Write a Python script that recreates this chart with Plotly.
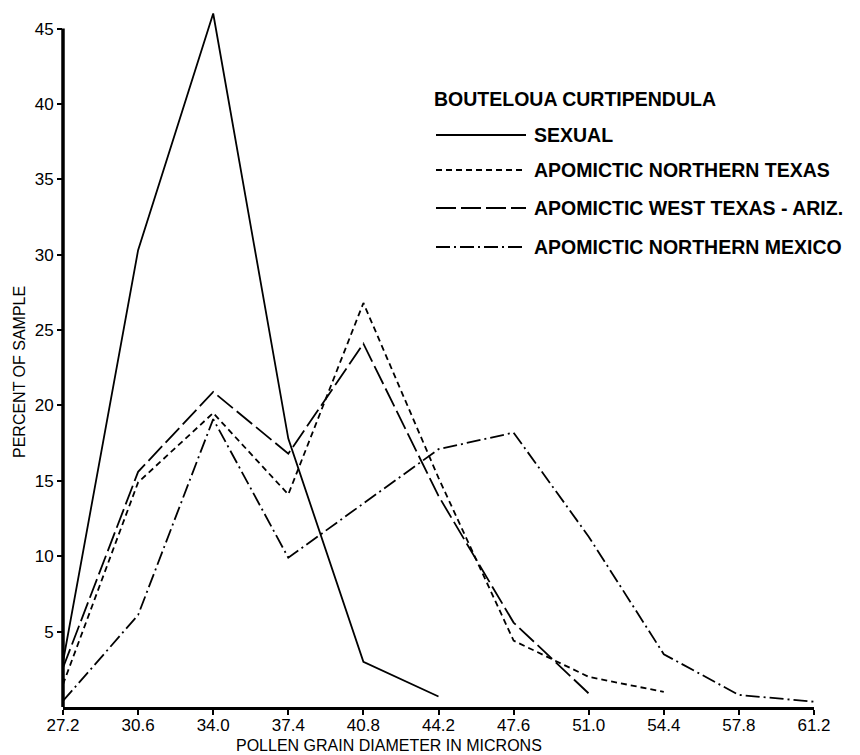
import plotly.graph_objects as go

# ---- data ----
diameters = [27.2, 30.6, 34.0, 37.4, 40.8, 44.2, 47.6, 51.0, 54.4, 57.8, 61.2]
tick_labels = ["27.2", "30.6", "34.0", "37.4", "40.8", "44.2", "47.6", "51.0", "54.4", "57.8", "61.2"]
y_ticks = [5, 10, 15, 20, 25, 30, 35, 40, 45]

sexual = [3.0, 30.3, 46.0, 17.8, 3.0, 0.7]
apo_north_texas = [1.5, 14.9, 19.5, 14.1, 26.8, 15.2, 4.4, 2.0, 1.0]
apo_west_texas_ariz = [2.6, 15.6, 20.9, 16.8, 24.1, 14.0, 5.6, 0.9]
apo_north_mexico = [0.4, 6.1, 19.1, 9.9, 13.5, 17.1, 18.2, 11.3, 3.5, 0.8, 0.35]

series_names = ["SEXUAL", "APOMICTIC NORTHERN TEXAS", "APOMICTIC WEST TEXAS - ARIZ.", "APOMICTIC NORTHERN MEXICO"]
series_values = [sexual, apo_north_texas, apo_west_texas_ariz, apo_north_mexico]
series_dash = ["solid", "6px,4px", "20px,5px", "14px,4px,2px,4px"]
legend_title = "BOUTELOUA CURTIPENDULA"

# ---- layout geometry (pixels) ----
W, H = 860, 755
L, R, T, B = 63, 814, 9, 707
YMAX = 46.3


def px_x(px):
    return (px - L) / (R - L)


def px_y(py):
    return (B - py) / (B - T)


FONT = "Liberation Sans, Arial, sans-serif"

fig = go.Figure()
for name, vals, dash in zip(series_names, series_values, series_dash):
    fig.add_trace(go.Scatter(
        x=diameters[:len(vals)], y=vals, mode="lines", name=name,
        line=dict(color="black", width=1.8, dash=dash), showlegend=False,
    ))

shapes = []
annotations = []
# y axis line from 0 to 45
shapes.append(dict(type="line", xref="paper", yref="y", x0=0, x1=0, y0=0, y1=45,
                   line=dict(color="black", width=3.5)))

# custom legend
annotations.append(dict(text=legend_title, xref="paper", yref="paper", x=px_x(432), y=px_y(99),
                        xanchor="left", yanchor="middle", showarrow=False,
                        font=dict(family=FONT, size=19.5, color="black", weight="bold")))
rows = [135, 170, 208, 247]
for name, dash, ry in zip(series_names, series_dash, rows):
    shapes.append(dict(type="line", xref="paper", yref="paper", x0=px_x(436), x1=px_x(526),
                       y0=px_y(ry), y1=px_y(ry), line=dict(color="black", width=1.8, dash=dash)))
    annotations.append(dict(text=name, xref="paper", yref="paper", x=px_x(532), y=px_y(ry),
                            xanchor="left", yanchor="middle", showarrow=False,
                            font=dict(family=FONT, size=19.5, color="black", weight="bold")))

# axis titles
annotations.append(dict(text="POLLEN GRAIN DIAMETER IN MICRONS", xref="paper", yref="paper",
                        x=px_x(389), y=px_y(745), xanchor="center", yanchor="middle", showarrow=False,
                        font=dict(family=FONT, size=16, color="black")))
annotations.append(dict(text="PERCENT OF SAMPLE", xref="paper", yref="paper",
                        x=px_x(19), y=px_y(372), xanchor="center", yanchor="middle", showarrow=False,
                        textangle=-90, font=dict(family=FONT, size=16, color="black")))

fig.update_layout(
    width=W, height=H,
    margin=dict(l=L, r=W - R, t=T, b=H - B, pad=0, autoexpand=False),
    paper_bgcolor="white", plot_bgcolor="white",
    showlegend=False,
    shapes=shapes, annotations=annotations,
    xaxis=dict(range=[27.2, 61.2], tickvals=diameters, ticktext=tick_labels, automargin=False,
               showgrid=False, zeroline=False, showline=True, linecolor="black", linewidth=3,
               ticks="outside", ticklen=5, tickwidth=2, tickcolor="black", ticklabelstandoff=-4,
               tickfont=dict(family=FONT, size=17, color="black")),
    yaxis=dict(range=[0, YMAX], tickvals=y_ticks, automargin=False,
               showgrid=False, zeroline=False, showline=False,
               ticks="outside", ticklen=5, tickwidth=2, tickcolor="black",
               tickfont=dict(family=FONT, size=17, color="black")),
)

fig.write_html("out.html", config={"displayModeBar": False},
               post_script="document.body.style.margin='0';document.body.style.overflow='hidden';")
